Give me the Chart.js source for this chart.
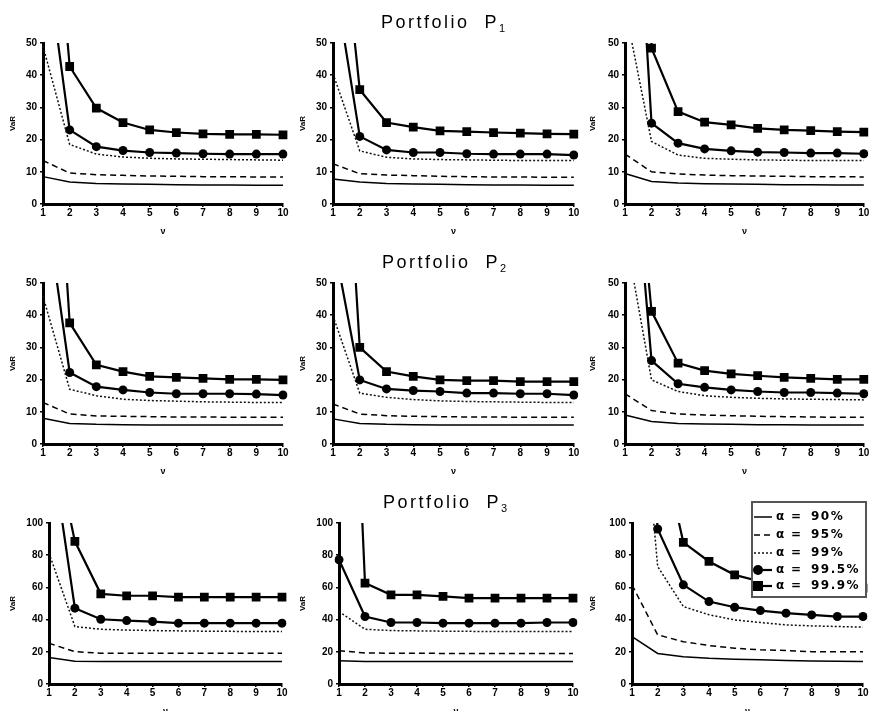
<!DOCTYPE html>
<html>
<head>
<meta charset="utf-8">
<script src="https://cdn.jsdelivr.net/npm/chart.js@4.4.0/dist/chart.umd.min.js"></script>
<style>
  body { margin: 0; background: #fff; width: 870px; height: 711px; overflow: hidden; position: relative; }
  canvas.cell { position: absolute; }
  .title {
    position: absolute; transform: translateX(-50%); white-space: nowrap;
    font-family: "Liberation Sans", Arial, sans-serif; font-size: 18px; line-height: 18px;
    letter-spacing: 2.5px; color: #000; z-index: 2;
  }
  .title sub { font-size: 11px; letter-spacing: 0; vertical-align: -4px; }
</style>
</head>
<body>
<div class="title" style="left:443px;top:13px">Portfolio&nbsp; P<sub>1</sub></div>
<div class="title" style="left:444px;top:253px">Portfolio&nbsp; P<sub>2</sub></div>
<div class="title" style="left:445px;top:493px">Portfolio&nbsp; P<sub>3</sub></div>
<script>
// x values (nu) and series names
const nu = ['1', '2', '3', '4', '5', '6', '7', '8', '9', '10'];
const alphaNames = ['α = 90%', 'α = 95%', 'α = 99%', 'α = 99.5%', 'α = 99.9%'];
const alphaLabels = ['90%', '95%', '99%', '99.5%', '99.9%'];

// y axis per row
const yMax = [50, 50, 100];
const yStep = [10, 10, 20];

// VaR values, rows: alpha 90, 95, 99, 99.5, 99.9 (first points run off the top)
const p1a = [
  [8.5, 6.8, 6.4, 6.2, 6.1, 6.0, 5.9, 5.9, 5.8, 5.8],
  [13.5, 9.6, 9.1, 8.9, 8.7, 8.6, 8.5, 8.5, 8.4, 8.4],
  [49, 18.5, 15.5, 14.6, 14.2, 14.0, 13.9, 13.8, 13.7, 13.6],
  [85, 23, 17.8, 16.6, 16.0, 15.8, 15.6, 15.5, 15.5, 15.5],
  [140, 42.7, 29.8, 25.3, 23.0, 22.2, 21.8, 21.6, 21.6, 21.5]
];
const p1b = [
  [7.8, 6.8, 6.4, 6.2, 6.1, 6.0, 5.9, 5.9, 5.8, 5.8],
  [12.5, 9.4, 9.0, 8.8, 8.6, 8.5, 8.4, 8.4, 8.3, 8.3],
  [40.5, 16.5, 14.5, 14.0, 13.8, 13.7, 13.6, 13.5, 13.5, 13.5],
  [73, 21, 16.8, 16.0, 16.0, 15.6, 15.5, 15.5, 15.5, 15.2],
  [115, 35.5, 25.3, 23.9, 22.7, 22.5, 22.2, 22.0, 21.8, 21.7]
];
const p1c = [
  [9.5, 7.0, 6.5, 6.3, 6.2, 6.1, 6.0, 6.0, 5.9, 5.9],
  [15.5, 10.0, 9.3, 9.0, 8.8, 8.7, 8.6, 8.5, 8.5, 8.4],
  [61, 19.4, 15.2, 14.2, 13.9, 13.7, 13.6, 13.5, 13.5, 13.5],
  [161, 25.1, 18.9, 17.1, 16.5, 16.1, 16.0, 15.8, 15.8, 15.6],
  [400, 48.4, 28.7, 25.4, 24.6, 23.5, 23.0, 22.8, 22.5, 22.3]
];
const p2a = [
  [8.0, 6.4, 6.1, 6.0, 5.9, 5.9, 5.9, 5.9, 5.9, 5.9],
  [12.9, 9.3, 8.7, 8.6, 8.5, 8.4, 8.4, 8.3, 8.3, 8.3],
  [45.9, 17.0, 15.0, 13.9, 13.5, 13.3, 13.1, 13.0, 12.9, 12.9],
  [81, 22.2, 17.8, 16.8, 16.0, 15.6, 15.6, 15.6, 15.5, 15.2],
  [167, 37.6, 24.6, 22.5, 21.0, 20.7, 20.4, 20.1, 20.1, 19.9]
];
const p2b = [
  [7.8, 6.4, 6.1, 6.0, 5.9, 5.9, 5.9, 5.9, 5.9, 5.9],
  [12.4, 9.3, 8.8, 8.6, 8.5, 8.4, 8.4, 8.3, 8.3, 8.3],
  [39.8, 15.8, 14.5, 13.8, 13.4, 13.2, 13.1, 13.0, 12.9, 12.9],
  [64, 19.9, 17.1, 16.6, 16.3, 15.8, 15.8, 15.6, 15.6, 15.2],
  [166, 30.0, 22.5, 21.0, 19.9, 19.7, 19.7, 19.4, 19.4, 19.4]
];
const p2c = [
  [9.0, 7.0, 6.4, 6.2, 6.1, 6.0, 6.0, 5.9, 5.9, 5.9],
  [15.6, 10.4, 9.3, 9.0, 8.8, 8.6, 8.5, 8.4, 8.3, 8.3],
  [66, 19.9, 16.3, 15.0, 14.5, 14.2, 14.0, 13.9, 13.8, 13.7],
  [122, 25.9, 18.7, 17.6, 16.8, 16.3, 16.0, 16.0, 15.8, 15.6],
  [129, 41.2, 25.1, 22.8, 21.8, 21.2, 20.7, 20.4, 20.1, 20.1]
];
const p3a = [
  [16.5, 14.2, 14.0, 14.0, 13.9, 13.9, 13.9, 13.9, 13.9, 13.9],
  [25.3, 20.1, 19.1, 19.1, 19.1, 19.1, 19.1, 19.1, 19.1, 19.1],
  [81.3, 35.7, 34.0, 33.5, 33.2, 33.0, 32.8, 32.7, 32.6, 32.6],
  [157, 47.1, 40.2, 39.4, 38.8, 37.8, 37.8, 37.8, 37.8, 37.8],
  [165, 88.6, 56.0, 54.8, 54.8, 53.9, 53.9, 53.9, 53.9, 53.9]
];
const p3b = [
  [14.5, 14.0, 14.0, 13.9, 13.9, 13.9, 13.9, 13.9, 13.9, 13.9],
  [20.7, 19.3, 19.1, 19.1, 19.0, 19.0, 19.0, 19.0, 19.0, 19.0],
  [45, 34.0, 33.2, 33.0, 32.8, 32.7, 32.6, 32.6, 32.6, 32.6],
  [77.2, 41.9, 38.2, 38.2, 37.8, 37.8, 37.8, 37.8, 38.2, 38.2],
  [430, 62.7, 55.4, 55.4, 54.4, 53.3, 53.3, 53.3, 53.3, 53.3]
];
const p3c = [
  [29.5, 19.0, 17.0, 16.0, 15.4, 15.0, 14.6, 14.3, 14.1, 13.9],
  [61.6, 30.5, 26.3, 23.9, 22.2, 21.2, 20.8, 20.1, 20.1, 20.1],
  [253, 73, 48.1, 43.0, 39.8, 38.2, 36.7, 36.1, 35.7, 35.3],
  [300, 96.3, 61.6, 51.2, 47.7, 45.6, 44.0, 42.9, 41.9, 41.9],
  [400, 159, 88, 76.1, 67.8, 63.7, 61.6, 60.6, 60.2, 59.5]
];

const panels = [[p1a, p1b, p1c], [p2a, p2b, p2c], [p3a, p3b, p3c]];

// plot area edges inside each 290x240 cell
const plotLeft = [[43, 43, 45], [43, 43, 45], [49, 49, 52]];
const plotRight = [[283, 284, 285], [283, 284, 285], [282, 283, 283]];
const plotTop = 43, plotBottom = 204;
const cellW = 290, cellH = 240;

const FONT = '"Liberation Sans", Arial, sans-serif';

const seriesStyle = [
  { borderWidth: 1.5, borderDash: [], pointRadius: 0, borderColor: '#000' },
  { borderWidth: 1.5, borderDash: [6, 4], pointRadius: 0, borderColor: '#000' },
  { borderWidth: 1.5, borderDash: [2, 2], pointRadius: 0, borderColor: '#111' },
  { borderWidth: 2.2, borderDash: [], pointStyle: 'circle', pointRadius: 4.5, borderColor: '#000' },
  { borderWidth: 2.2, borderDash: [], pointStyle: 'rect', pointRadius: 6.2, borderColor: '#000' }
];

// legend box drawn inside the last panel
const legendBox = {
  id: 'legendBox',
  afterDraw(chart, args, opts) {
    if (!opts.show) return;
    const ctx = chart.ctx;
    const x0 = 172, y0 = 22, w = 114, h = 95;
    ctx.save();
    ctx.fillStyle = '#fff';
    ctx.fillRect(x0, y0, w, h);
    ctx.strokeStyle = '#555';
    ctx.lineWidth = 2;
    ctx.strokeRect(x0, y0, w, h);
    const rows = [37, 55, 73, 90, 106];
    chart.data.datasets.forEach((ds, i) => {
      const y = rows[i];
      ctx.strokeStyle = ds.borderColor;
      ctx.lineWidth = ds.borderWidth;
      ctx.setLineDash(ds.borderDash || []);
      ctx.beginPath();
      ctx.moveTo(174, y);
      ctx.lineTo(192, y);
      ctx.stroke();
      ctx.setLineDash([]);
      if (ds.pointRadius > 0) {
        ctx.fillStyle = '#000';
        if (ds.pointStyle === 'circle') {
          ctx.beginPath();
          ctx.arc(178, y, 5, 0, Math.PI * 2);
          ctx.fill();
        } else {
          ctx.fillRect(173, y - 5, 10, 10);
        }
      }
      ctx.fillStyle = '#000';
      ctx.font = 'bold 12px "DejaVu Sans", sans-serif';
      ctx.textBaseline = 'middle';
      ctx.textAlign = 'left';
      ctx.fillText('α', 196, y);
      ctx.fillText('=', 211, y);
      ctx.letterSpacing = '1.5px';
      ctx.fillText(alphaLabels[i], 231, y);
      ctx.letterSpacing = '0px';
    });
    ctx.restore();
  }
};

function makeChart(row, col) {
  const canvas = document.createElement('canvas');
  canvas.className = 'cell';
  canvas.width = cellW;
  canvas.height = cellH;
  canvas.style.left = (col * cellW) + 'px';
  canvas.style.top = (row * cellH) + 'px';
  document.body.appendChild(canvas);

  const series = panels[row][col];
  const left = plotLeft[row][col];
  const right = plotRight[row][col];

  const datasets = series.map((vals, i) => ({
    label: alphaNames[i],
    data: vals,
    borderColor: seriesStyle[i].borderColor,
    backgroundColor: '#000',
    borderWidth: seriesStyle[i].borderWidth,
    borderDash: seriesStyle[i].borderDash,
    pointStyle: seriesStyle[i].pointStyle || 'circle',
    pointRadius: seriesStyle[i].pointRadius,
    pointBorderWidth: 0,
    tension: 0,
    fill: false
  }));

  const tickFont = { family: FONT, size: 10, weight: 'bold' };

  return new Chart(canvas, {
    type: 'line',
    data: { labels: nu, datasets },
    plugins: [legendBox],
    options: {
      responsive: false,
      animation: false,
      events: [],
      layout: { padding: { left: 0, top: plotTop, right: cellW - right, bottom: 0 } },
      plugins: {
        legend: { display: false },
        tooltip: { enabled: false },
        legendBox: { show: row === 2 && col === 2 }
      },
      scales: {
        x: {
          type: 'category',
          offset: false,
          grid: { drawOnChartArea: false, drawTicks: true, tickLength: 3, color: '#000', lineWidth: 1.5 },
          border: { display: true, color: '#000', width: 3 },
          ticks: { font: tickFont, color: '#000', padding: 0, maxRotation: 0, autoSkip: false },
          title: { display: true, text: 'ν', color: '#000', font: { family: FONT, size: 9, weight: 'bold' }, padding: { top: 0, bottom: 3 } },
          afterFit(s) { s.height = cellH - plotBottom; }
        },
        y: {
          min: 0,
          max: yMax[row],
          grid: { drawOnChartArea: false, drawTicks: true, tickLength: 3, color: '#000', lineWidth: 1.5 },
          border: { display: true, color: '#000', width: 3 },
          ticks: { stepSize: yStep[row], font: tickFont, color: '#000', padding: 3 },
          title: { display: true, text: 'VaR', color: '#000', font: { family: FONT, size: 8, weight: 'bold' }, padding: { top: 8, bottom: 0 } },
          afterFit(s) { s.width = left; }
        }
      }
    }
  });
}

for (let r = 0; r < 3; r++) {
  for (let c = 0; c < 3; c++) {
    makeChart(r, c);
  }
}
</script>
</body>
</html>
